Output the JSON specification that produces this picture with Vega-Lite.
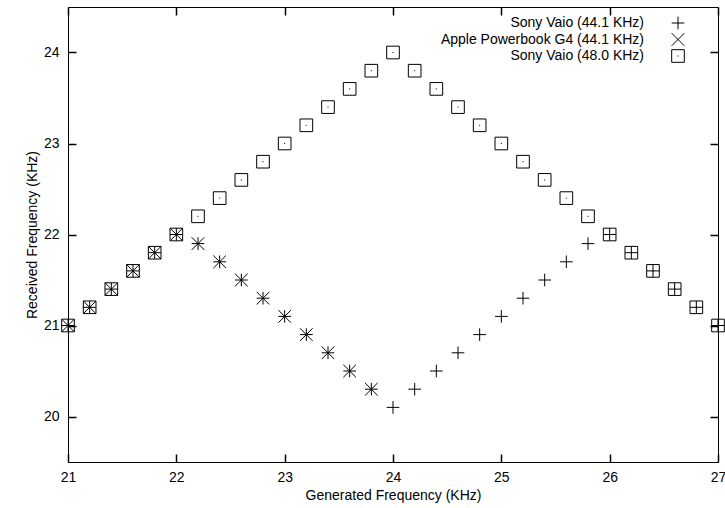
{
  "$schema": "https://vega.github.io/schema/vega-lite/v6.json",
  "width": 650,
  "height": 455,
  "autosize": "none",
  "padding": {"left": 68, "top": 7, "right": 7, "bottom": 46},
  "background": "white",
  "config": {
    "font": "Liberation Sans",
    "view": {"stroke": "black", "strokeWidth": 1},
    "axis": {
      "grid": false,
      "domain": false,
      "ticks": true,
      "tickOpacity": 1,
      "labelFlush": false,
      "labelColor": "black",
      "labelFontSize": 14,
      "labelFont": "Liberation Sans",
      "titleFont": "Liberation Sans",
      "titleFontSize": 14,
      "titleFontWeight": "normal",
      "titleColor": "black"
    },
    "legend": {
      "labelFont": "Liberation Sans",
      "labelFontSize": 14,
      "labelColor": "black"
    }
  },
  "data": {
    "values": [
      {"series": "Sony Vaio (44.1 KHz)", "x": 21.0, "y": 21.0},
      {"series": "Sony Vaio (44.1 KHz)", "x": 21.2, "y": 21.2},
      {"series": "Sony Vaio (44.1 KHz)", "x": 21.4, "y": 21.4},
      {"series": "Sony Vaio (44.1 KHz)", "x": 21.6, "y": 21.6},
      {"series": "Sony Vaio (44.1 KHz)", "x": 21.8, "y": 21.8},
      {"series": "Sony Vaio (44.1 KHz)", "x": 22.0, "y": 22.0},
      {"series": "Sony Vaio (44.1 KHz)", "x": 22.2, "y": 21.9},
      {"series": "Sony Vaio (44.1 KHz)", "x": 22.4, "y": 21.7},
      {"series": "Sony Vaio (44.1 KHz)", "x": 22.6, "y": 21.5},
      {"series": "Sony Vaio (44.1 KHz)", "x": 22.8, "y": 21.3},
      {"series": "Sony Vaio (44.1 KHz)", "x": 23.0, "y": 21.1},
      {"series": "Sony Vaio (44.1 KHz)", "x": 23.2, "y": 20.9},
      {"series": "Sony Vaio (44.1 KHz)", "x": 23.4, "y": 20.7},
      {"series": "Sony Vaio (44.1 KHz)", "x": 23.6, "y": 20.5},
      {"series": "Sony Vaio (44.1 KHz)", "x": 23.8, "y": 20.3},
      {"series": "Sony Vaio (44.1 KHz)", "x": 24.0, "y": 20.1},
      {"series": "Sony Vaio (44.1 KHz)", "x": 24.2, "y": 20.3},
      {"series": "Sony Vaio (44.1 KHz)", "x": 24.4, "y": 20.5},
      {"series": "Sony Vaio (44.1 KHz)", "x": 24.6, "y": 20.7},
      {"series": "Sony Vaio (44.1 KHz)", "x": 24.8, "y": 20.9},
      {"series": "Sony Vaio (44.1 KHz)", "x": 25.0, "y": 21.1},
      {"series": "Sony Vaio (44.1 KHz)", "x": 25.2, "y": 21.3},
      {"series": "Sony Vaio (44.1 KHz)", "x": 25.4, "y": 21.5},
      {"series": "Sony Vaio (44.1 KHz)", "x": 25.6, "y": 21.7},
      {"series": "Sony Vaio (44.1 KHz)", "x": 25.8, "y": 21.9},
      {"series": "Sony Vaio (44.1 KHz)", "x": 26.0, "y": 22.0},
      {"series": "Sony Vaio (44.1 KHz)", "x": 26.2, "y": 21.8},
      {"series": "Sony Vaio (44.1 KHz)", "x": 26.4, "y": 21.6},
      {"series": "Sony Vaio (44.1 KHz)", "x": 26.6, "y": 21.4},
      {"series": "Sony Vaio (44.1 KHz)", "x": 26.8, "y": 21.2},
      {"series": "Sony Vaio (44.1 KHz)", "x": 27.0, "y": 21.0},
      {"series": "Apple Powerbook G4 (44.1 KHz)", "x": 21.0, "y": 21.0},
      {"series": "Apple Powerbook G4 (44.1 KHz)", "x": 21.2, "y": 21.2},
      {"series": "Apple Powerbook G4 (44.1 KHz)", "x": 21.4, "y": 21.4},
      {"series": "Apple Powerbook G4 (44.1 KHz)", "x": 21.6, "y": 21.6},
      {"series": "Apple Powerbook G4 (44.1 KHz)", "x": 21.8, "y": 21.8},
      {"series": "Apple Powerbook G4 (44.1 KHz)", "x": 22.0, "y": 22.0},
      {"series": "Apple Powerbook G4 (44.1 KHz)", "x": 22.2, "y": 21.9},
      {"series": "Apple Powerbook G4 (44.1 KHz)", "x": 22.4, "y": 21.7},
      {"series": "Apple Powerbook G4 (44.1 KHz)", "x": 22.6, "y": 21.5},
      {"series": "Apple Powerbook G4 (44.1 KHz)", "x": 22.8, "y": 21.3},
      {"series": "Apple Powerbook G4 (44.1 KHz)", "x": 23.0, "y": 21.1},
      {"series": "Apple Powerbook G4 (44.1 KHz)", "x": 23.2, "y": 20.9},
      {"series": "Apple Powerbook G4 (44.1 KHz)", "x": 23.4, "y": 20.7},
      {"series": "Apple Powerbook G4 (44.1 KHz)", "x": 23.6, "y": 20.5},
      {"series": "Apple Powerbook G4 (44.1 KHz)", "x": 23.8, "y": 20.3},
      {"series": "Sony Vaio (48.0 KHz)", "x": 21.0, "y": 21.0},
      {"series": "Sony Vaio (48.0 KHz)", "x": 21.2, "y": 21.2},
      {"series": "Sony Vaio (48.0 KHz)", "x": 21.4, "y": 21.4},
      {"series": "Sony Vaio (48.0 KHz)", "x": 21.6, "y": 21.6},
      {"series": "Sony Vaio (48.0 KHz)", "x": 21.8, "y": 21.8},
      {"series": "Sony Vaio (48.0 KHz)", "x": 22.0, "y": 22.0},
      {"series": "Sony Vaio (48.0 KHz)", "x": 22.2, "y": 22.2},
      {"series": "Sony Vaio (48.0 KHz)", "x": 22.4, "y": 22.4},
      {"series": "Sony Vaio (48.0 KHz)", "x": 22.6, "y": 22.6},
      {"series": "Sony Vaio (48.0 KHz)", "x": 22.8, "y": 22.8},
      {"series": "Sony Vaio (48.0 KHz)", "x": 23.0, "y": 23.0},
      {"series": "Sony Vaio (48.0 KHz)", "x": 23.2, "y": 23.2},
      {"series": "Sony Vaio (48.0 KHz)", "x": 23.4, "y": 23.4},
      {"series": "Sony Vaio (48.0 KHz)", "x": 23.6, "y": 23.6},
      {"series": "Sony Vaio (48.0 KHz)", "x": 23.8, "y": 23.8},
      {"series": "Sony Vaio (48.0 KHz)", "x": 24.0, "y": 24.0},
      {"series": "Sony Vaio (48.0 KHz)", "x": 24.2, "y": 23.8},
      {"series": "Sony Vaio (48.0 KHz)", "x": 24.4, "y": 23.6},
      {"series": "Sony Vaio (48.0 KHz)", "x": 24.6, "y": 23.4},
      {"series": "Sony Vaio (48.0 KHz)", "x": 24.8, "y": 23.2},
      {"series": "Sony Vaio (48.0 KHz)", "x": 25.0, "y": 23.0},
      {"series": "Sony Vaio (48.0 KHz)", "x": 25.2, "y": 22.8},
      {"series": "Sony Vaio (48.0 KHz)", "x": 25.4, "y": 22.6},
      {"series": "Sony Vaio (48.0 KHz)", "x": 25.6, "y": 22.4},
      {"series": "Sony Vaio (48.0 KHz)", "x": 25.8, "y": 22.2},
      {"series": "Sony Vaio (48.0 KHz)", "x": 26.0, "y": 22.0},
      {"series": "Sony Vaio (48.0 KHz)", "x": 26.2, "y": 21.8},
      {"series": "Sony Vaio (48.0 KHz)", "x": 26.4, "y": 21.6},
      {"series": "Sony Vaio (48.0 KHz)", "x": 26.6, "y": 21.4},
      {"series": "Sony Vaio (48.0 KHz)", "x": 26.8, "y": 21.2},
      {"series": "Sony Vaio (48.0 KHz)", "x": 27.0, "y": 21.0}
    ]
  },
  "layer": [
    {
      "mark": {"type": "point", "filled": false, "color": "black", "strokeWidth": 1, "size": 160, "opacity": 1, "clip": false},
      "encoding": {
        "x": {
          "field": "x", "type": "quantitative",
          "scale": {"domain": [21, 27], "nice": false, "zero": false},
          "axis": {"orient": "bottom", "values": [21, 22, 23, 24, 25, 26, 27], "tickSize": -8, "tickColor": "black", "tickWidth": 1.5, "labelPadding": 16, "title": "Generated Frequency (KHz)", "titlePadding": 4}
        },
        "y": {
          "field": "y", "type": "quantitative",
          "scale": {"domain": [19.5, 24.5], "nice": false, "zero": false},
          "axis": {"orient": "left", "values": [20, 21, 22, 23, 24], "tickSize": -8, "tickColor": "black", "tickWidth": 1.5, "labelPadding": 17, "title": "Received Frequency (KHz)", "titlePadding": 4}
        },
        "shape": {
          "field": "series", "type": "nominal",
          "scale": {
            "domain": ["Sony Vaio (44.1 KHz)", "Apple Powerbook G4 (44.1 KHz)", "Sony Vaio (48.0 KHz)"],
            "range": ["M-1,0H1M0,-1V1", "M-1,-1L1,1M1,-1L-1,1", "M-1,-1H1V1H-1ZM-0.08,0H0.08"]
          },
          "legend": {
            "title": null,
            "orient": "none",
            "legendX": 603,
            "legendY": 9,
            "padding": 0,
            "symbolSize": 160,
            "symbolStrokeColor": "black",
            "symbolStrokeWidth": 1,
            "symbolOpacity": 1,
            "labelAlign": "right",
            "labelOffset": -41,
            "rowPadding": -1.5,
            "labelLimit": 400
          }
        }
      }
    },
    {
      "mark": {"type": "point", "size": 0, "strokeWidth": 0},
      "encoding": {
        "x": {
          "field": "x", "type": "quantitative",
          "scale": {"domain": [21, 27], "nice": false, "zero": false},
          "axis": {"orient": "top", "values": [21, 22, 23, 24, 25, 26, 27], "tickSize": -8, "tickColor": "black", "tickWidth": 1.5, "labels": false, "title": null}
        },
        "y": {
          "field": "y", "type": "quantitative",
          "scale": {"domain": [19.5, 24.5], "nice": false, "zero": false},
          "axis": {"orient": "right", "values": [20, 21, 22, 23, 24], "tickSize": -8, "tickColor": "black", "tickWidth": 1.5, "labels": false, "title": null}
        }
      }
    }
  ],
  "resolve": {"axis": {"x": "independent", "y": "independent"}}
}
